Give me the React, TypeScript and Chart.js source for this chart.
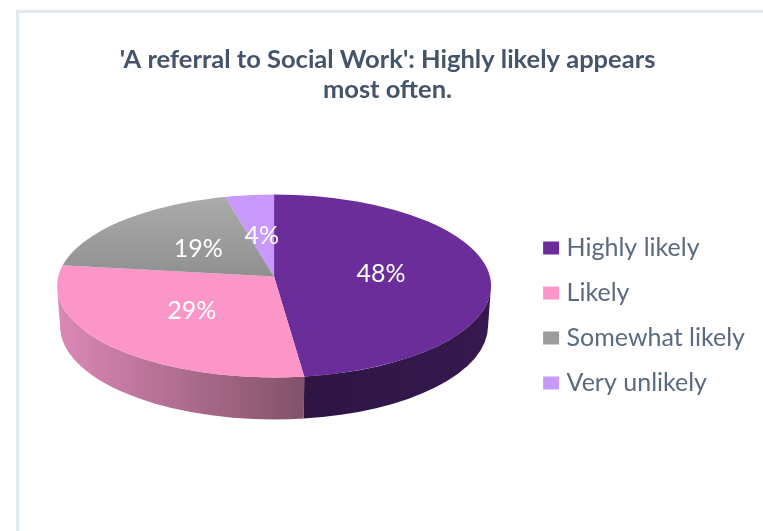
import React, { useEffect, useRef } from "react";
import { Chart, registerables } from "chart.js";

Chart.register(...registerables);

const categories = ["Highly likely", "Likely", "Somewhat likely", "Very unlikely"];
const percentages = [48, 29, 19, 4];
const titleLines = ["'A referral to Social Work': Highly likely appears", "most often."];

const faceColors = ["#6b2d9a", "#fc95c8", "#9c9c9c", "#c799fb"];
const wallShades = [
  ["#2e1544", "#36194f"],
  ["#dc88b6", "#825268"],
  ["#6a6a6a", "#505050"],
  ["#86669f", "#6a4f80"],
];

// Perspective of the tilted disc: near rim is magnified, so the hub sits above the ellipse centre.
const PERSPECTIVE = 0.104;
const RIM_X = 215.8;
const RIM_Y = 90.5;
const FACE_RX = 217;
const FACE_RY = 91.5;
const HUB_TO_CENTRE = 9.5;
const HUB_SHIFT_X = 0;
const HUB_SHIFT_Y = -41.5;
const WALL_RX = 214;
const WALL_RY = 93.5;
const WALL_DROP = 40;
const LEGEND_SHIFT_X = -8;
const LEGEND_SHIFT_Y = 50;
const Y_SQUASH = FACE_RY / FACE_RX;
const TAU = Math.PI * 2;

const project = (a: number) => {
  const u = Math.cos(a);
  const v = Math.sin(a);
  const w = 1 - PERSPECTIVE * v;
  return { x: (RIM_X * u) / w, y: (RIM_Y * v) / w };
};

const projectedAngle = (a: number) => {
  const p = project(a);
  const t = Math.atan2(p.y / Y_SQUASH, p.x);
  return t + TAU * Math.round((a - t) / TAU);
};

const rimParam = (a: number) => {
  const p = project(a);
  const t = Math.atan2((p.y - HUB_TO_CENTRE) / FACE_RY, p.x / FACE_RX);
  return t + TAU * Math.round((a - t) / TAU);
};

const discPlugin = {
  id: "disc",
  beforeDatasetDraw(chart: any) {
    const ctx = chart.ctx;
    const arcs = chart.getDatasetMeta(0).data;
    const hubX = arcs[0].x + HUB_SHIFT_X;
    const hubY = arcs[0].y + HUB_SHIFT_Y;
    const cy = hubY + HUB_TO_CENTRE;

    arcs.forEach((el: any, i: number) => {
      const t1 = Math.max(rimParam(el.startAngle), 0);
      const t2 = Math.min(rimParam(el.endAngle), Math.PI);
      if (t2 <= t1) return;
      const xa = hubX + FACE_RX * Math.cos(t2);
      const xb = hubX + FACE_RX * Math.cos(t1);
      const g = ctx.createLinearGradient(xa, 0, xb, 0);
      g.addColorStop(0, wallShades[i][0]);
      g.addColorStop(1, wallShades[i][1]);
      ctx.beginPath();
      ctx.ellipse(hubX, cy, FACE_RX, FACE_RY, 0, t1, t2);
      ctx.ellipse(hubX, cy + WALL_DROP, WALL_RX, WALL_RY, 0, t2, t1, true);
      ctx.closePath();
      ctx.fillStyle = g;
      ctx.fill();
    });

    ctx.save();
    ctx.beginPath();
    ctx.ellipse(hubX, cy, FACE_RX, FACE_RY, 0, 0, TAU);
    ctx.clip();
    const elY = arcs[0].y;
    const elX = arcs[0].x;
    ctx.translate(hubX, hubY);
    ctx.scale(1, Y_SQUASH);
    ctx.translate(-elX, -elY);

    chart.$saved = arcs.map((el: any) => ({
      startAngle: el.startAngle,
      endAngle: el.endAngle,
      circumference: el.circumference,
      outerRadius: el.outerRadius,
      options: el.options,
    }));
    arcs.forEach((el: any, i: number) => {
      const s = projectedAngle(el.startAngle);
      const e = projectedAngle(el.endAngle);
      el.startAngle = s;
      el.endAngle = e;
      el.circumference = e - s;
      el.outerRadius = el.outerRadius * 2;
      if (i === 2) {
        const top = elY + (-FACE_RY * 0.9) / Y_SQUASH;
        const g = ctx.createLinearGradient(0, top, 0, elY);
        g.addColorStop(0, "#acacac");
        g.addColorStop(1, "#909090");
        el.options = { ...el.options, backgroundColor: g };
      }
    });
  },
  afterDatasetDraw(chart: any) {
    chart.ctx.restore();
    chart.getDatasetMeta(0).data.forEach((el: any, i: number) => {
      Object.assign(el, chart.$saved[i]);
    });
  },
  afterDatasetsDraw(chart: any) {
    const ctx = chart.ctx;
    const arcs = chart.getDatasetMeta(0).data;
    ctx.save();
    ctx.font = "25px Lato";
    ctx.fillStyle = "#ffffff";
    ctx.textAlign = "center";
    ctx.textBaseline = "middle";
    arcs.forEach((el: any, i: number) => {
      const p = project((el.startAngle + el.endAngle) / 2);
      ctx.fillText(percentages[i] + "%", el.x + HUB_SHIFT_X + p.x * 0.5, el.y + HUB_SHIFT_Y + p.y * 0.5);
    });
    ctx.restore();
  },
  afterLayout(chart: any) {
    chart.legend.left += LEGEND_SHIFT_X;
    chart.legend.right += LEGEND_SHIFT_X;
    chart.legend.top += LEGEND_SHIFT_Y;
    chart.legend.bottom += LEGEND_SHIFT_Y;
  },
};

export default function App() {
  const ref = useRef<HTMLCanvasElement>(null);
  useEffect(() => {
    const chart = new Chart(ref.current!, {
      type: "pie",
      data: {
        labels: categories,
        datasets: [
          {
            data: percentages,
            backgroundColor: faceColors,
            borderWidth: 0,
            clip: false,
          } as any,
        ],
      },
      plugins: [discPlugin],
      options: {
        responsive: false,
        animation: false,
        layout: { padding: { left: 12, top: 0, right: 0, bottom: 0 } },
        plugins: {
          tooltip: { enabled: false },
          title: {
            display: true,
            text: titleLines,
            color: "#44546a",
            font: { family: "Lato", size: 25.5, weight: "bold", lineHeight: 1.175 },
            padding: { top: 45, bottom: 0 },
          },
          legend: {
            position: "right",
            labels: {
              color: "#5a6a80",
              font: { family: "Lato", size: 25 },
              boxWidth: 6,
              boxHeight: 3,
              padding: 20,
              generateLabels: (c: any) =>
                (Chart as any).overrides.pie.plugins.legend.labels
                  .generateLabels(c)
                  .map((item: any) => ({ ...item, lineWidth: 10, strokeStyle: item.fillStyle })),
            },
          },
        },
      } as any,
    });
    return () => chart.destroy();
  }, []);
  return (
    <>
      <div
        style={{
          position: "fixed",
          left: 16,
          top: 10,
          right: 0,
          bottom: 0,
          borderLeft: "3px solid #e2e8f0",
          borderTop: "3px solid #e2e8f0",
        }}
      />
      <canvas
        ref={ref}
        width={763}
        height={531}
        style={{ position: "fixed", left: 0, top: 0, width: 763, height: 531 }}
      />
    </>
  );
}
